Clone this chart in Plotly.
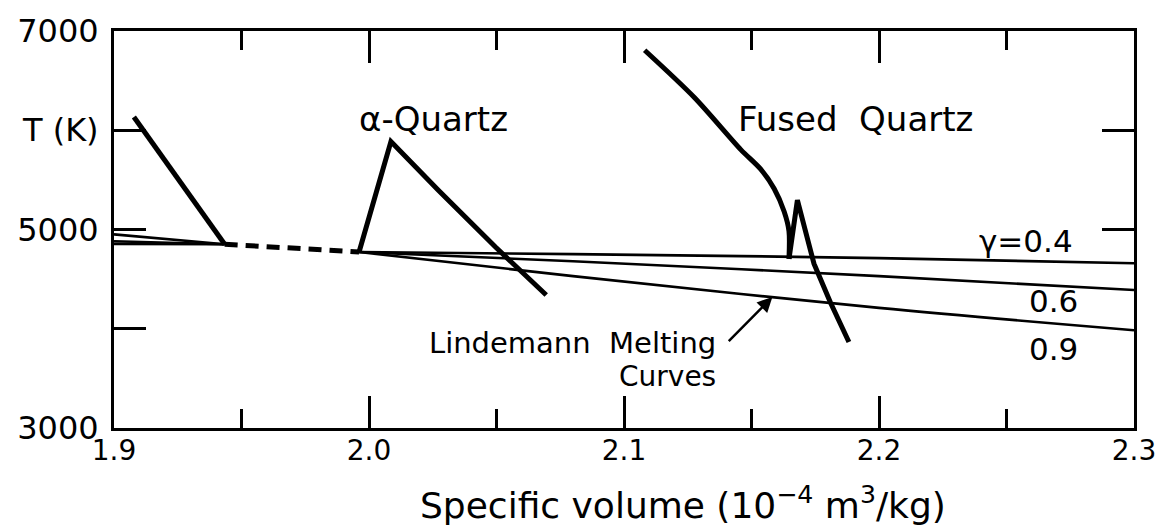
import plotly.graph_objects as go

# Hugoniot of the dense phase (left), alpha-quartz and fused quartz
dense_v = [1.9078, 1.9434]
dense_T = [6133, 4852]

alpha_v = [1.9961, 2.0086, 2.0273, 2.0496, 2.0695]
alpha_T = [4773, 5887, 5394, 4823, 4340]

# fused quartz: smooth upper branch, then the sharp notch and lower branch
fused_upper_v = [2.1081, 2.1276, 2.1458, 2.1536, 2.1589, 2.1628, 2.1647, 2.1647]
fused_upper_T = [6806, 6330, 5805, 5608, 5411, 5181, 4983, 4704]
fused_lower_v = [2.1647, 2.1680, 2.1745, 2.1810, 2.1882]
fused_lower_T = [4704, 5296, 4655, 4261, 3867]

# Lindemann melting curves for three values of gamma
lind_left_v = [1.9, 1.9434]
lind_left_T = {"0.4": [4855, 4852], "0.6": [4882, 4852], "0.9": [4951, 4852]}

lind_gap_v = [1.9434, 1.9961]
lind_gap_T = [4852, 4773]

lind_right_v = [1.9961, 2.08, 2.2, 2.3]
lind_right_T = {"0.4": [4773, 4752, 4712, 4660],
                "0.6": [4773, 4680, 4530, 4390],
                "0.9": [4773, 4530, 4210, 3985]}

x_ticks = [1.9, 2.0, 2.1, 2.2, 2.3]
x_tick_text = ["1.9", "2.0", "2.1", "2.2", "2.3"]
x_minor_ticks = [1.95, 2.05, 2.15, 2.25]
y_ticks = [3000, 4000, 5000, 6000, 7000]
y_tick_text = ["3000", "", "5000", "T (K)", "7000"]
y_right_ticks = [5000, 6000]

FONT = "DejaVu Sans"
INK = "black"

fig = go.Figure()

for g in ["0.4", "0.6", "0.9"]:
    fig.add_trace(go.Scatter(x=lind_left_v, y=lind_left_T[g], mode="lines",
                             line=dict(color=INK, width=2.6), showlegend=False))
    fig.add_trace(go.Scatter(x=lind_right_v, y=lind_right_T[g], mode="lines",
                             line=dict(color=INK, width=2.6, shape="spline"),
                             showlegend=False))

fig.add_trace(go.Scatter(x=lind_gap_v, y=lind_gap_T, mode="lines",
                         line=dict(color=INK, width=5, dash="13px,8px"),
                         showlegend=False))

fig.add_trace(go.Scatter(x=dense_v, y=dense_T, mode="lines",
                         line=dict(color=INK, width=5), showlegend=False))
fig.add_trace(go.Scatter(x=alpha_v, y=alpha_T, mode="lines",
                         line=dict(color=INK, width=5), showlegend=False))
fig.add_trace(go.Scatter(x=fused_upper_v, y=fused_upper_T, mode="lines",
                         line=dict(color=INK, width=5, shape="spline",
                                   smoothing=0.8),
                         showlegend=False))
fig.add_trace(go.Scatter(x=fused_lower_v, y=fused_lower_T, mode="lines",
                         line=dict(color=INK, width=5), showlegend=False))

# carrier for the right-hand tick marks
fig.add_trace(go.Scatter(x=[None], y=[None], yaxis="y2", mode="lines",
                         showlegend=False, hoverinfo="skip"))

labels = [
    ("\u03b1-Quartz", 2.0254, 6113, 34, "center"),
    ("Fused  Quartz", 2.1906, 6113, 34, "center"),
    ("\u03b3=0.4", 2.2578, 4882, 31, "center"),
    ("0.6", 2.2684, 4281, 31, "center"),
    ("0.9", 2.2684, 3798, 31, "center"),
    ("Lindemann  Melting", 2.1367, 3857, 29, "right"),
    ("Curves", 2.1367, 3522, 28, "right"),
]
for text, x, y, size, anchor in labels:
    fig.add_annotation(x=x, y=y, xref="x", yref="y", text=text,
                       showarrow=False, xanchor=anchor, yanchor="middle",
                       font=dict(family=FONT, size=size, color=INK))

fig.add_annotation(x=2.1582, y=4320, ax=2.1405, ay=3860, axref="x", ayref="y",
                   xref="x", yref="y", text="", showarrow=True,
                   arrowhead=2, arrowsize=1.2, arrowwidth=2.5, arrowcolor=INK)

# horizontal-axis caption, set a little right of centre
fig.add_annotation(x=0.5576, y=-0.19, xref="paper", yref="paper",
                   text="Specific volume (10<sup>\u22124</sup> m<sup>3</sup>/kg)",
                   showarrow=False, xanchor="center", yanchor="middle",
                   font=dict(family=FONT, size=36, color=INK))

fig.update_layout(
    width=1168, height=528,
    margin=dict(l=114, r=30, t=22, b=100),
    paper_bgcolor="white", plot_bgcolor="white",
    font=dict(family=FONT, color=INK),
    xaxis=dict(
        range=[1.9, 2.3], tickvals=x_ticks, ticktext=x_tick_text,
        ticks="inside", ticklen=32, tickwidth=2.5, tickcolor=INK,
        minor=dict(tickvals=x_minor_ticks, ticks="inside",
                   ticklen=19, tickwidth=2.5, tickcolor=INK, showgrid=False),
        showline=True, linewidth=3, linecolor=INK, mirror="ticks",
        showgrid=False, zeroline=False, ticklabelstandoff=-5,
        tickfont=dict(family=FONT, size=28, color=INK),
    ),
    yaxis=dict(
        range=[3000, 7000], tickvals=y_ticks, ticktext=y_tick_text,
        ticks="inside", ticklen=32, tickwidth=2.5, tickcolor=INK,
        showline=True, linewidth=3, linecolor=INK, mirror=True,
        showgrid=False, zeroline=False, ticklabelstandoff=6,
        tickfont=dict(family=FONT, size=32, color=INK),
    ),
    yaxis2=dict(
        range=[3000, 7000], overlaying="y", side="right",
        tickvals=y_right_ticks, ticks="inside", ticklen=32, tickwidth=2.5,
        tickcolor=INK, showticklabels=False, showline=False,
        showgrid=False, zeroline=False,
    ),
)

fig.write_html("out.html")
